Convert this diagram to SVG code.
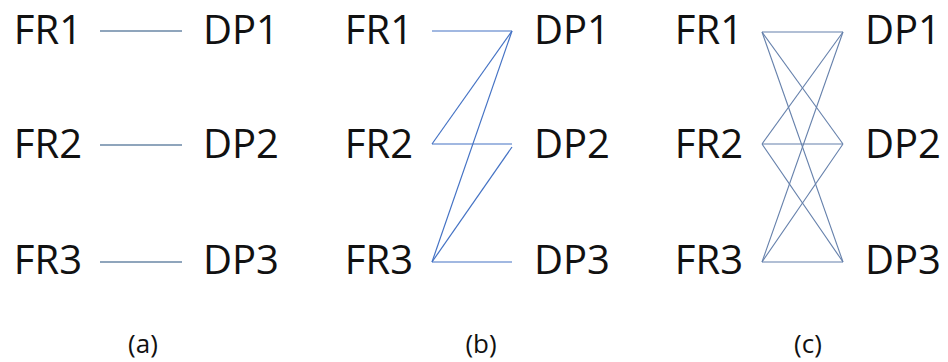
<svg xmlns="http://www.w3.org/2000/svg" width="948" height="362" viewBox="0 0 948 362">
<style>
.t{font-family:"Open Sans","Noto Sans",sans-serif;font-size:40px;fill:#111}
.fr{text-anchor:end}
.lb{font-family:"Open Sans","Noto Sans",sans-serif;font-size:26px;fill:#111;text-anchor:middle}
.ca line{stroke:#6a87a6;stroke-width:1.3}
.cb line{stroke:#4472C4;stroke-width:1.2}
.cc line{stroke:#6580ab;stroke-width:1.1}
</style>
<rect width="948" height="362" fill="#fff"/>
<g id="connectors">
<g class="ca">
<line x1="100" y1="31" x2="182" y2="31"/>
<line x1="100" y1="145" x2="182" y2="145"/>
<line x1="100" y1="262" x2="182" y2="262"/>
</g>
<g class="cb">
<line x1="432" y1="31" x2="512" y2="31"/>
<line x1="512" y1="31" x2="432" y2="144"/>
<line x1="512" y1="31" x2="432" y2="262"/>
<line x1="432" y1="144" x2="512" y2="144"/>
<line x1="512" y1="147" x2="432" y2="262"/>
<line x1="432" y1="262" x2="512" y2="262"/>
</g>
<g class="cc">
<line x1="762" y1="32" x2="843" y2="32"/>
<line x1="762" y1="32" x2="843" y2="144"/>
<line x1="762" y1="32" x2="843" y2="262"/>
<line x1="762" y1="144" x2="843" y2="32"/>
<line x1="762" y1="144" x2="843" y2="144"/>
<line x1="762" y1="144" x2="843" y2="262"/>
<line x1="762" y1="262" x2="843" y2="32"/>
<line x1="762" y1="262" x2="843" y2="144"/>
<line x1="762" y1="262" x2="843" y2="262"/>
</g>
</g>
<g id="a-FR1"><text class="t fr" x="82" y="44">FR1</text></g>
<g id="a-FR2"><text class="t fr" x="82" y="158">FR2</text></g>
<g id="a-FR3"><text class="t fr" x="82" y="274">FR3</text></g>
<g id="a-DP1"><text class="t" x="203" y="44">DP1</text></g>
<g id="a-DP2"><text class="t" x="203" y="158">DP2</text></g>
<g id="a-DP3"><text class="t" x="203" y="274">DP3</text></g>
<g id="b-FR1"><text class="t fr" x="413" y="44">FR1</text></g>
<g id="b-FR2"><text class="t fr" x="413" y="158">FR2</text></g>
<g id="b-FR3"><text class="t fr" x="413" y="274">FR3</text></g>
<g id="b-DP1"><text class="t" x="534" y="44">DP1</text></g>
<g id="b-DP2"><text class="t" x="534" y="158">DP2</text></g>
<g id="b-DP3"><text class="t" x="534" y="274">DP3</text></g>
<g id="c-FR1"><text class="t fr" x="743" y="44">FR1</text></g>
<g id="c-FR2"><text class="t fr" x="743" y="158">FR2</text></g>
<g id="c-FR3"><text class="t fr" x="743" y="274">FR3</text></g>
<g id="c-DP1"><text class="t" x="865" y="44">DP1</text></g>
<g id="c-DP2"><text class="t" x="865" y="158">DP2</text></g>
<g id="c-DP3"><text class="t" x="865" y="274">DP3</text></g>
<g id="label-a"><text class="lb" x="143" y="353">(a)</text></g>
<g id="label-b"><text class="lb" x="481" y="353">(b)</text></g>
<g id="label-c"><text class="lb" x="808" y="353">(c)</text></g>
</svg>
